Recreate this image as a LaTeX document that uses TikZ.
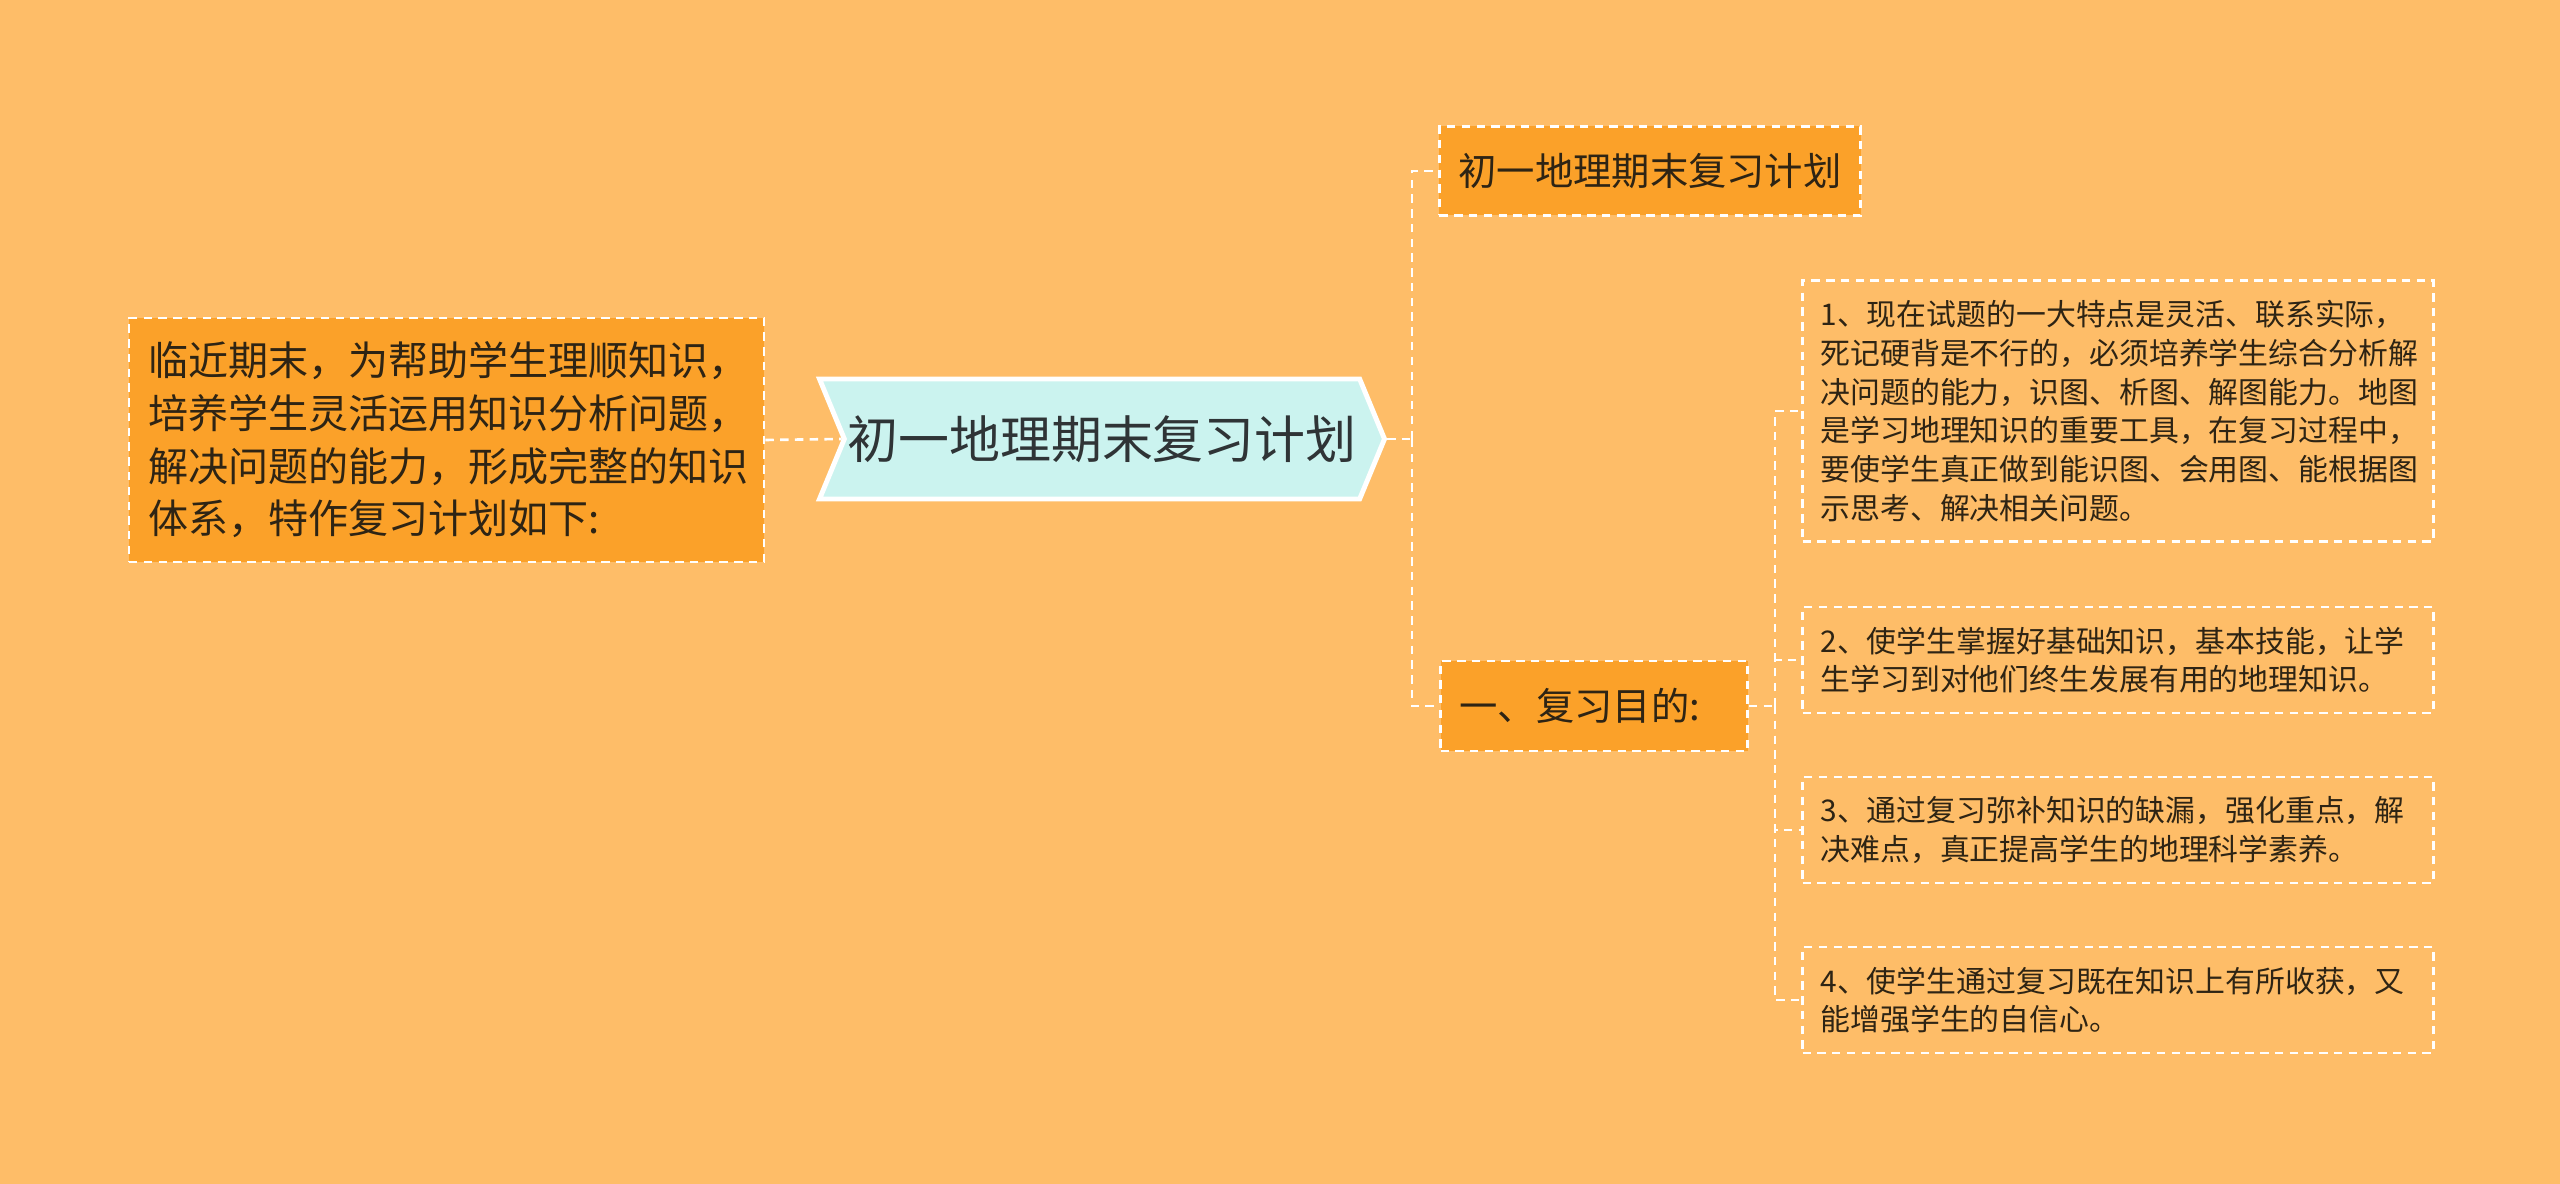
\documentclass[tikz,border=0pt]{standalone}
\usepackage{fontspec}
\usepackage{xcolor}
\usepackage{tikz}
\usetikzlibrary{positioning,calc,shapes.symbols}
\newfontfamily\cjk{Noto Sans CJK SC}
\definecolor{Peach}{HTML}{FEBD68}
\definecolor{Amber}{HTML}{FBA129}
\definecolor{Mint}{HTML}{CBF3EF}
\definecolor{Ink}{HTML}{2E2414}
\definecolor{Slate}{HTML}{2F3436}
\tikzset{
  linkline/.style={draw=white, line width=0.75pt, dash pattern=on 2.4pt off 1.8pt},
  rootnode/.style={signal, signal to=east, signal from=west, signal pointer angle=135, draw=white, fill=Mint, line width=1.4pt, minimum width=5.65cm, minimum height=1.2cm, inner sep=0pt, text=Slate, font={\cjk\fontsize{14.5}{17}\selectfont}},
  topicnode/.style={draw=white, fill=Amber, line width=0.75pt, dash pattern=on 2.4pt off 1.8pt, align=left, inner xsep=0.19cm, inner ysep=0pt, text=Ink},
  leafnode/.style={draw=white, line width=0.75pt, dash pattern=on 2.4pt off 1.8pt, align=left, text width=5.95cm, inner xsep=0.18cm, inner ysep=0pt, text=Ink, font={\cjk\fontsize{8.5}{11}\selectfont}},
}
\begin{document}
\begin{tikzpicture}[x=1cm,y=1cm]
\path[use as bounding box] (0,0) rectangle (25.6,11.84);
\fill[Peach] (0,0) rectangle (25.6,11.84);

% central node
\node[rootnode] (root) at (11.02,7.45) {初一地理期末复习计划};

% left intro
\node[topicnode,text width=5.97cm,minimum height=2.44cm,font={\cjk\fontsize{11.4}{15}\selectfont}] (intro) at (4.465,7.44)
  {临近期末，为帮助学生理顺知识，\\培养学生灵活运用知识分析问题，\\解决问题的能力，形成完整的知识\\体系，特作复习计划如下:};

% right topics
\node[topicnode,minimum width=4.21cm,minimum height=0.89cm,font={\cjk\fontsize{10.9}{13}\selectfont}] (title) at (16.5,10.13) {初一地理期末复习计划};
\node[topicnode,text width=2.69cm,minimum height=0.9cm,font={\cjk\fontsize{10.9}{13}\selectfont}] (aims) at (15.94,4.78) {一、复习目的:};

% leaves
\node[leafnode,minimum height=2.61cm] (leafa) at (21.18,7.73)
  {1、现在试题的一大特点是灵活、联系实际，\\死记硬背是不行的，必须培养学生综合分析解\\决问题的能力，识图、析图、解图能力。地图\\是学习地理知识的重要工具，在复习过程中，\\要使学生真正做到能识图、会用图、能根据图\\示思考、解决相关问题。};
\node[leafnode,minimum height=1.06cm] (leafb) at (21.18,5.24)
  {2、使学生掌握好基础知识，基本技能，让学\\生学习到对他们终生发展有用的地理知识。};
\node[leafnode,minimum height=1.06cm] (leafc) at (21.18,3.54)
  {3、通过复习弥补知识的缺漏，强化重点，解\\决难点，真正提高学生的地理科学素养。};
\node[leafnode,minimum height=1.06cm] (leafd) at (21.18,1.84)
  {4、使学生通过复习既在知识上有所收获，又\\能增强学生的自信心。};

% connectors
\coordinate (spineA) at (14.12,7.45);
\coordinate (spineB) at (17.75,4.78);
\draw[linkline] (intro.east) -- (root.west);
\draw[linkline] (root.east) -- (spineA);
\draw[linkline] (spineA) |- (title.west);
\draw[linkline] (spineA) |- (aims.west);
\draw[linkline] (aims.east) -- (spineB);
\foreach \leaf in {leafa,leafb,leafc,leafd}
  \draw[linkline] (spineB) |- (\leaf.west);
\end{tikzpicture}
\end{document}
